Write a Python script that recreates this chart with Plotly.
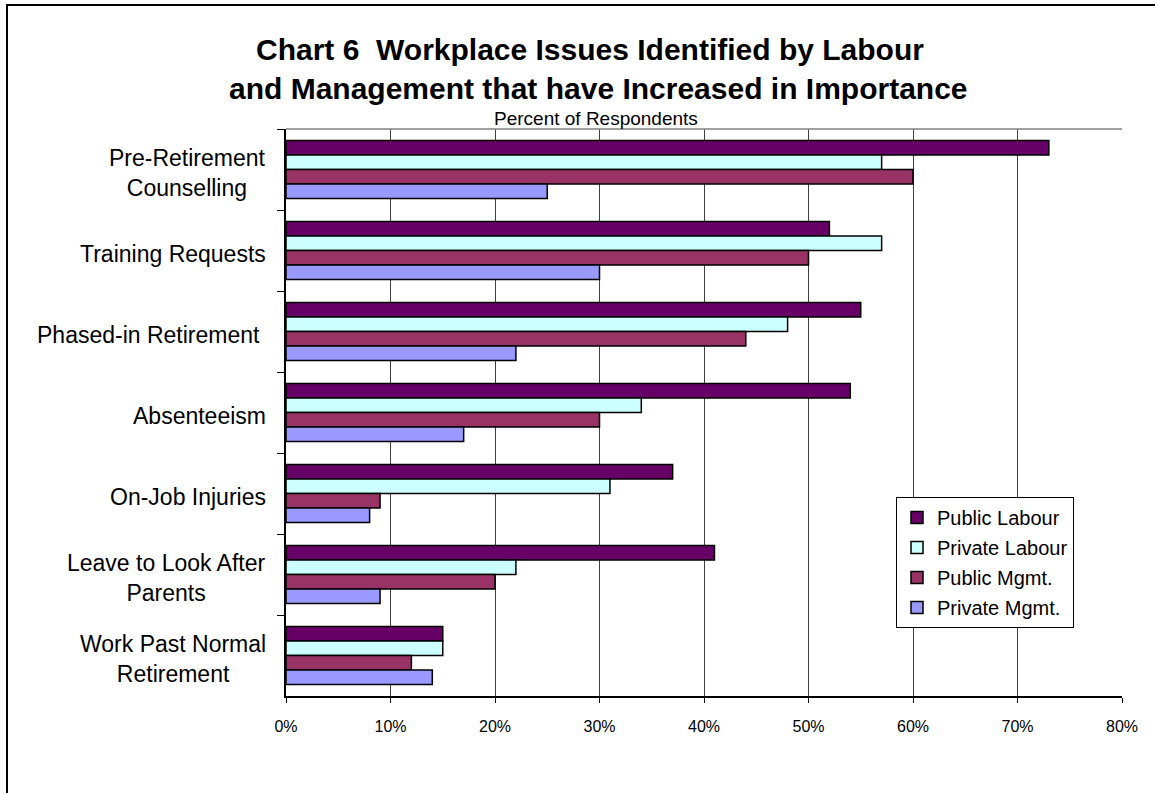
import plotly.graph_objects as go

categories = [
    "Pre-Retirement<br>Counselling",
    "Training Requests",
    "Phased-in Retirement ",
    "Absenteeism",
    "On-Job Injuries",
    "Leave to Look After<br>Parents",
    "Work Past Normal<br>Retirement",
]
series_names = ["Public Labour", "Private Labour", "Public Mgmt.", "Private Mgmt."]
public_labour = [73, 52, 55, 54, 37, 41, 15]
private_labour = [57, 57, 48, 34, 31, 22, 15]
public_mgmt = [60, 50, 44, 30, 9, 20, 12]
private_mgmt = [25, 30, 22, 17, 8, 9, 14]
colors = ["#660066", "#CCFFFF", "#993366", "#9999FF"]
x_ticks = [0, 10, 20, 30, 40, 50, 60, 70, 80]
x_tick_labels = [f"{v}%" for v in x_ticks]

FONT = "Arial, Liberation Sans, sans-serif"
W, H = 1155, 793
L, R, T, B = 286, 1122, 129, 696

def px(x):
    return (x - L) / (R - L)

def py(y):
    return (B - y) / (B - T)

fig = go.Figure()
for i, (name, vals) in enumerate(zip(series_names, [public_labour, private_labour, public_mgmt, private_mgmt])):
    fig.add_trace(go.Bar(
        y=categories, x=vals, name=name, orientation="h",
        marker=dict(color=colors[i], line=dict(color="#000000", width=1.5)),
        legendgroup=f"g{i}",
    ))

annotations = []
for c in categories:
    annotations.append(dict(
        x=px(268), xref="paper", y=c, yref="y", text=c.rstrip(), showarrow=False,
        xanchor="right", yanchor="middle", align="center", yshift=-3,
        xshift=(-6 if c.endswith(" ") else 0),
        font=dict(family=FONT, size=23, color="#000"),
    ))
annotations += [
    dict(x=px(590), y=py(49), xref="paper", yref="paper", showarrow=False,
         text="<b>Chart 6  Workplace Issues Identified by Labour</b>",
         xanchor="center", yanchor="middle",
         font=dict(family=FONT, size=30, color="#000")),
    dict(x=px(598), y=py(88), xref="paper", yref="paper", showarrow=False,
         text="<b>and Management that have Increased in Importance</b>",
         xanchor="center", yanchor="middle",
         font=dict(family=FONT, size=30, color="#000")),
    dict(x=px(596), y=py(119), xref="paper", yref="paper", showarrow=False,
         text="Percent of Respondents", xanchor="center", yanchor="middle",
         font=dict(family=FONT, size=19, color="#000")),
]

shapes = [
    dict(type="line", xref="paper", yref="paper", x0=0, x1=1, y0=1, y1=1,
         line=dict(color="#808080", width=1.5)),
    dict(type="rect", xref="paper", yref="paper", x0=px(7), x1=px(1175),
         y0=py(815), y1=py(5), line=dict(color="#000000", width=2),
         fillcolor="rgba(0,0,0,0)"),
]

fig.update_layout(
    width=W, height=H,
    margin=dict(l=L, r=W - R, t=T, b=H - B, pad=0),
    paper_bgcolor="white", plot_bgcolor="white",
    barmode="group", bargap=0.284, bargroupgap=0,
    font=dict(family=FONT, color="#000"),
    showlegend=True,
    legend=dict(
        x=px(896), y=py(497), xanchor="left", yanchor="top",
        bordercolor="#000", borderwidth=1, bgcolor="white",
        font=dict(family=FONT, size=20, color="#000"),
        traceorder="grouped", tracegroupgap=1,
        entrywidth=148, entrywidthmode="pixels",
    ),
    annotations=annotations,
    shapes=shapes,
)
fig.update_xaxes(
    range=[0, 80], tickvals=x_ticks, ticktext=x_tick_labels,
    showgrid=True, gridcolor="#404040", gridwidth=1,
    zeroline=False, showline=True, linecolor="#000", linewidth=1.5,
    ticks="outside", ticklen=5, tickcolor="#000",
    tickfont=dict(family=FONT, size=16, color="#000"),
    ticklabelstandoff=10,
)
fig.update_yaxes(
    autorange="reversed", showticklabels=False, showgrid=False,
    showline=True, linecolor="#000", linewidth=1.5,
    ticks="outside", tickson="boundaries", ticklen=7, tickcolor="#000",
    zeroline=False,
)

fig.write_html("out.html")
